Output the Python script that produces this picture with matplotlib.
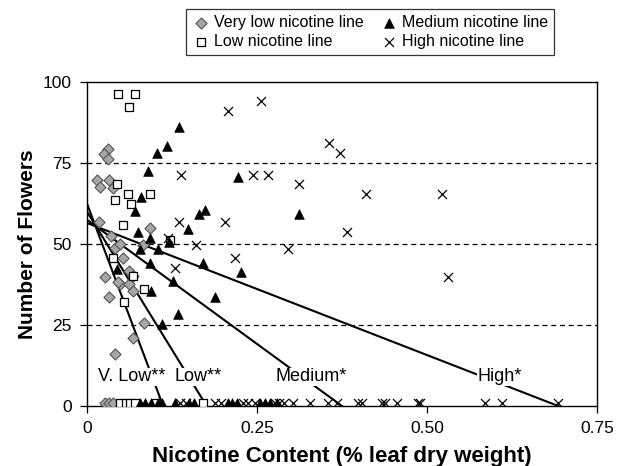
import matplotlib.pyplot as plt
import numpy as np

plt.rcParams['font.family'] = ['Liberation Sans', 'DejaVu Sans']

# Very low nicotine line (diamonds)
vlow_x = [0.031, 0.025, 0.031, 0.015, 0.019, 0.033, 0.039, 0.018, 0.093, 0.036,
          0.041, 0.049, 0.083, 0.053, 0.026, 0.062, 0.068, 0.048, 0.062, 0.068,
          0.033, 0.084, 0.067, 0.041, 0.046, 0.026, 0.033, 0.038]
vlow_y = [79.4, 77.8, 76.3, 69.8, 67.5, 69.8, 67.3, 56.7, 54.8, 52.5,
          48.9, 49.9, 49.7, 45.8, 39.9, 41.7, 40.2, 37.8, 37.8, 35.6,
          33.5, 25.7, 21.0, 15.9, 38.2, 1, 1, 1]

# Low nicotine line (open squares)
low_x = [0.045, 0.070, 0.062, 0.044, 0.060, 0.092, 0.041, 0.065, 0.053, 0.122,
         0.039, 0.068, 0.084, 0.055, 0.049, 0.057, 0.064, 0.071, 0.101, 0.171]
low_y = [96.4, 96.4, 92.3, 68.6, 65.5, 65.5, 63.5, 62.5, 56.0, 51.2,
         45.8, 40.2, 36.1, 32.0, 1, 1, 1, 1, 1, 1]

# Medium nicotine line (triangles)
med_x = [0.135, 0.117, 0.103, 0.090, 0.222, 0.079, 0.071, 0.165, 0.174, 0.312,
         0.075, 0.148, 0.092, 0.078, 0.105, 0.121, 0.044, 0.092, 0.170, 0.226,
         0.127, 0.094, 0.188, 0.134, 0.110,
         0.078, 0.086, 0.094, 0.104, 0.111, 0.130, 0.150, 0.157, 0.207, 0.214,
         0.220, 0.254, 0.262, 0.269, 0.280]
med_y = [86.2, 80.4, 78.2, 72.4, 70.6, 64.6, 60.1, 59.3, 60.4, 59.3,
         53.7, 54.5, 51.9, 48.4, 48.4, 50.7, 42.2, 44.3, 44.3, 41.5,
         38.7, 35.6, 33.7, 28.4, 25.4,
         1, 1, 1, 1, 1, 1, 1, 1, 1, 1,
         1, 1, 1, 1, 1]

# High nicotine line (crosses)
high_x = [0.208, 0.256, 0.139, 0.244, 0.266, 0.356, 0.372, 0.312, 0.411, 0.522,
          0.383, 0.135, 0.203, 0.119, 0.161, 0.218, 0.129, 0.295, 0.531,
          0.137, 0.145, 0.188, 0.197, 0.229, 0.237, 0.247, 0.276, 0.283, 0.290,
          0.303, 0.328, 0.354, 0.368, 0.399, 0.404, 0.434, 0.438, 0.456, 0.487,
          0.490, 0.585, 0.610, 0.693]
high_y = [91.1, 94.2, 71.4, 71.4, 71.4, 81.3, 78.2, 68.5, 65.4, 65.4,
          53.7, 56.7, 56.7, 51.9, 49.7, 45.6, 42.5, 48.4, 39.7,
          1, 1, 1, 1, 1, 1, 1, 1, 1, 1,
          1, 1, 1, 1, 1, 1, 1, 1, 1, 1,
          1, 1, 1, 1]

# Regression lines: value at x=0 and x-intercept
fit_names = ['V. Low**', 'Low**', 'Medium*', 'High*']
fit_y0 = [62.5, 60.0, 57.5, 56.5]
fit_x0 = [0.112, 0.176, 0.375, 0.693]
label_x = [0.066, 0.164, 0.330, 0.607]
label_y = [9.0, 9.0, 9.0, 9.0]

fig = plt.figure(figsize=(6.28, 4.66), dpi=100)
ax = fig.add_axes([0.1385, 0.1288, 0.812, 0.695])

for y in [25, 50, 75]:
    ax.axhline(y, color='black', lw=0.9, ls=(0, (4, 3)), zorder=1)

for y0, x0 in zip(fit_y0, fit_x0):
    ax.plot([0, x0], [y0, 0], color='black', lw=1.5, zorder=2)

h1 = ax.scatter(vlow_x, vlow_y, marker='D', s=32, facecolor='#a6a6a6',
                edgecolor='#555555', linewidth=0.8, zorder=3, label='Very low nicotine line')
h2 = ax.scatter(low_x, low_y, marker='s', s=38, facecolor='white',
                edgecolor='black', linewidth=0.9, zorder=3, label='Low nicotine line')
h3 = ax.scatter(med_x, med_y, marker='^', s=48, facecolor='black',
                edgecolor='black', linewidth=0.5, zorder=3, label='Medium nicotine line')
h4 = ax.scatter(high_x, high_y, marker='x', s=42, color='black',
                linewidth=0.9, zorder=3, label='High nicotine line')

for name, lx, ly in zip(fit_names, label_x, label_y):
    ax.text(lx, ly, name, ha='center', va='center', fontsize=13, zorder=4,
            bbox=dict(facecolor='white', edgecolor='none', pad=0.5))

ax.set_xlim(0, 0.75)
ax.set_ylim(0, 100)
ax.set_xticks([0, 0.25, 0.5, 0.75])
ax.set_xticklabels(['0', '0.25', '0.50', '0.75'])
ax.set_yticks([0, 25, 50, 75, 100])
ax.tick_params(direction='out', length=5, width=0.9, labelsize=12.5, pad=6)
for s in ax.spines.values():
    s.set_linewidth(1.0)

ax.set_xlabel('Nicotine Content (% leaf dry weight)', fontsize=16, fontweight='bold', labelpad=7)
ax.set_ylabel('Number of Flowers', fontsize=15, fontweight='bold', labelpad=4)

leg = fig.legend(handles=[h1, h2, h3, h4], ncol=2, loc='upper center',
                 bbox_to_anchor=(0.589, 0.997), fontsize=11.5, frameon=True,
                 fancybox=False, edgecolor='black', handletextpad=0.2,
                 columnspacing=1.0, borderpad=0.35, labelspacing=0.25, handlelength=1.2)
leg.get_frame().set_linewidth(0.9)

fig.savefig('out.png', dpi=100)
